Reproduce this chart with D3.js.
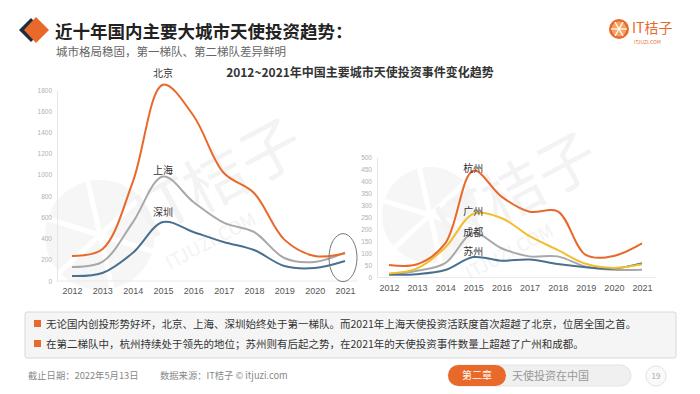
<!DOCTYPE html>
<html><head><meta charset="utf-8">
<script src="https://cdn.jsdelivr.net/npm/d3@7/dist/d3.min.js"></script>
<style>
html,body{margin:0;padding:0;background:#fff;}
svg{display:block;font-family:"Noto Sans CJK SC","Noto Sans",sans-serif;}
</style></head>
<body>
<svg id="c" width="700" height="394"></svg>
<script>
const years = [2012,2013,2014,2015,2016,2017,2018,2019,2020,2021];
// Tier 1 cities
const beijing  = [236,300,930,1850,1560,1020,830,390,236,262];
const shanghai = [132,180,550,985,745,550,462,217,180,268];
const shenzhen = [47,75,264,556,462,368,292,142,123,189];
// Tier 2 cities
const hangzhou  = [52,55,142,445,337,274,276,94,90,142];
const guangzhou = [17,38,125,265,248,172,115,57,40,55];
const chengdu   = [10,28,60,185,122,88,88,45,32,32];
const suzhou    = [12,14,31,85,70,75,56,43,37,60];
const leftTicks  = [0,200,400,600,800,1000,1200,1400,1600,1800];
const rightTicks = [0,50,100,150,200,250,300,350,400,450,500];
const bullets = [
  "无论国内创投形势好坏，北京、上海、深圳始终处于第一梯队。而2021年上海天使投资活跃度首次超越了北京，位居全国之首。",
  "在第二梯队中，杭州持续处于领先的地位；苏州则有后起之势，在2021年的天使投资事件数量上超越了广州和成都。"
];

const svg = d3.select("#c");
const ORANGE = "#E8692A", GRAY = "#A8A8A8", BLUE = "#4A7090", YELLOW = "#F0BE2E";

// ---------- header ----------
svg.append("path").attr("d","M19,30 L31,18 L43,30 L31,42 Z").attr("fill","#1f2d3d");
svg.append("path").attr("d","M24,30 L36,17 L49,30 L36,43 Z").attr("fill",ORANGE);
svg.append("text").attr("x",55).attr("y",38).attr("font-size",17.5).attr("font-weight",700)
  .attr("fill","#222").text("近十年国内主要大城市天使投资趋势：");
svg.append("text").attr("x",56).attr("y",56).attr("font-size",11.5)
  .attr("fill","#666").text("城市格局稳固，第一梯队、第二梯队差异鲜明");

// logo
const lg = svg.append("g").attr("transform","translate(619,29)");
lg.append("circle").attr("r",10).attr("fill",ORANGE);
lg.append("circle").attr("r",7.5).attr("fill","#F6A15F");
for(let i=0;i<6;i++){
  const a = i*Math.PI/3;
  lg.append("line").attr("x1",0).attr("y1",0).attr("x2",8*Math.cos(a)).attr("y2",8*Math.sin(a))
    .attr("stroke","#fff").attr("stroke-width",1.3);
}
svg.append("text").attr("x",632).attr("y",33).attr("font-size",14).attr("fill",ORANGE).text("IT桔子");
svg.append("text").attr("x",634).attr("y",44).attr("font-size",5).attr("fill",ORANGE).text("ITJUZI.COM");

// chart title
svg.append("text").attr("x",360).attr("y",77).attr("text-anchor","middle").attr("font-size",12)
  .attr("font-weight",700).attr("fill","#333").text("2012~2021年中国主要城市天使投资事件变化趋势");

// ---------- watermarks ----------
function watermark(cx,cy,r,tx,ty,ts){
  const g = svg.append("g");
  g.append("circle").attr("cx",cx).attr("cy",cy).attr("r",r).attr("fill","#f6f6f6");
  for(let i=0;i<6;i++){
    const a = i*Math.PI/3 + 0.3;
    g.append("line").attr("x1",cx).attr("y1",cy).attr("x2",cx+r*Math.cos(a)).attr("y2",cy+r*Math.sin(a))
      .attr("stroke","#fff").attr("stroke-width",5);
  }
  g.append("text").attr("transform",`translate(${tx},${ty}) rotate(-28)`).attr("font-size",ts)
    .attr("font-weight",400).attr("fill","#f3f3f3").text("IT桔子");
  g.append("text").attr("transform",`translate(${tx+20},${ty+30}) rotate(-28)`).attr("font-size",ts*0.3)
    .attr("fill","#f3f3f3").text("ITJUZI.COM");
}
watermark(100,235,55,150,240,62);
watermark(430,215,48,450,250,60);

// ---------- chart builder ----------
function chart(opts){
  const x = d3.scalePoint().domain(years).range(opts.xr);
  const y = d3.scaleLinear().domain(opts.yd).range(opts.yr);
  const g = svg.append("g");
  const ya = g.append("g").attr("transform",`translate(${opts.ax},0)`)
    .call(d3.axisLeft(y).tickValues(opts.ticks).tickFormat(d3.format("d")).tickSize(0).tickPadding(5));
  ya.select(".domain").attr("stroke","#e6e6e6");
  ya.selectAll("text").attr("fill","#b0b0b0").attr("font-size",6.5).attr("font-family","Liberation Sans, Arial");
  const xa = g.append("g").attr("transform",`translate(0,${opts.yr[0]})`)
    .call(d3.axisBottom(x).tickSize(0).tickPadding(7));
  xa.select(".domain").attr("d",`M${opts.ax},0H${opts.xend}`).attr("stroke","#eaeaea");
  xa.selectAll("text").attr("fill","#555").attr("font-size",9).attr("font-family","Liberation Sans, Arial");
  const line = d3.line().x((d,i)=>x(years[i])).y(d=>y(d)).curve(d3.curveCatmullRom.alpha(0.5));
  opts.series.forEach(s=>{
    g.append("path").datum(s.v).attr("d",line).attr("fill","none")
      .attr("stroke",s.c).attr("stroke-width",2).attr("stroke-linejoin","round");
  });
  opts.series.forEach(s=>{
    g.append("text").attr("x",x(2015)).attr("y",y(s.v[3])+s.dy).attr("text-anchor","middle")
      .attr("font-size",10).attr("fill","#333").text(s.n);
  });
  return {x,y};
}

const L = chart({
  xr:[72,345], yd:[0,1800], yr:[281,90], ax:57, xend:357, ticks:leftTicks,
  series:[
    {n:"深圳", v:shenzhen, c:BLUE, dy:-6},
    {n:"上海", v:shanghai, c:GRAY, dy:-2},
    {n:"北京", v:beijing,  c:ORANGE, dy:-8}
  ]
});
const R = chart({
  xr:[389,642], yd:[0,500], yr:[277.5,157.5], ax:377, xend:656, ticks:rightTicks,
  series:[
    {n:"成都", v:chengdu,   c:GRAY, dy:3},
    {n:"苏州", v:suzhou,    c:BLUE, dy:-2},
    {n:"广州", v:guangzhou, c:YELLOW, dy:1},
    {n:"杭州", v:hangzhou,  c:ORANGE, dy:1}
  ]
});

// highlight ellipse around 2021 (left chart)
svg.append("ellipse").attr("cx",L.x(2021)-2).attr("cy",L.y(220)).attr("rx",14).attr("ry",24)
  .attr("fill","none").attr("stroke","#777").attr("stroke-width",1);

// ---------- bottom box ----------
svg.append("rect").attr("x",25).attr("y",312).attr("width",651).attr("height",46)
  .attr("fill","#f5f5f5").attr("stroke","#d9d9d9").attr("rx",2);
bullets.forEach((t,i)=>{
  const yy = 324 + i*20;
  svg.append("rect").attr("x",34).attr("y",yy-4).attr("width",7).attr("height",7).attr("fill",ORANGE);
  svg.append("text").attr("x",46).attr("y",yy+4).attr("font-size",10.5).attr("fill","#333").text(t);
});

// ---------- footer ----------
svg.append("text").attr("x",28).attr("y",379).attr("font-size",9.3).attr("fill","#888")
  .text("截止日期：2022年5月13日");
svg.append("text").attr("x",160).attr("y",379).attr("font-size",9.3).attr("fill","#888")
  .text("数据来源：IT桔子 © itjuzi.com");
svg.append("rect").attr("x",448).attr("y",365).attr("width",183).attr("height",21).attr("rx",10.5)
  .attr("fill","#f0f0f0").attr("stroke","#e4e4e4");
svg.append("rect").attr("x",448).attr("y",365).attr("width",58).attr("height",21).attr("rx",10.5)
  .attr("fill",ORANGE);
svg.append("text").attr("x",477).attr("y",379).attr("text-anchor","middle").attr("font-size",10)
  .attr("fill","#fff").text("第二章");
svg.append("text").attr("x",512).attr("y",380).attr("font-size",11).attr("fill","#999").text("天使投资在中国");
svg.append("circle").attr("cx",656).attr("cy",376).attr("r",10).attr("fill","#fafafa").attr("stroke","#e2e2e2");
svg.append("text").attr("x",656).attr("y",379).attr("text-anchor","middle").attr("font-size",8)
  .attr("fill","#aaa").text("19");
</script>
</body></html>
